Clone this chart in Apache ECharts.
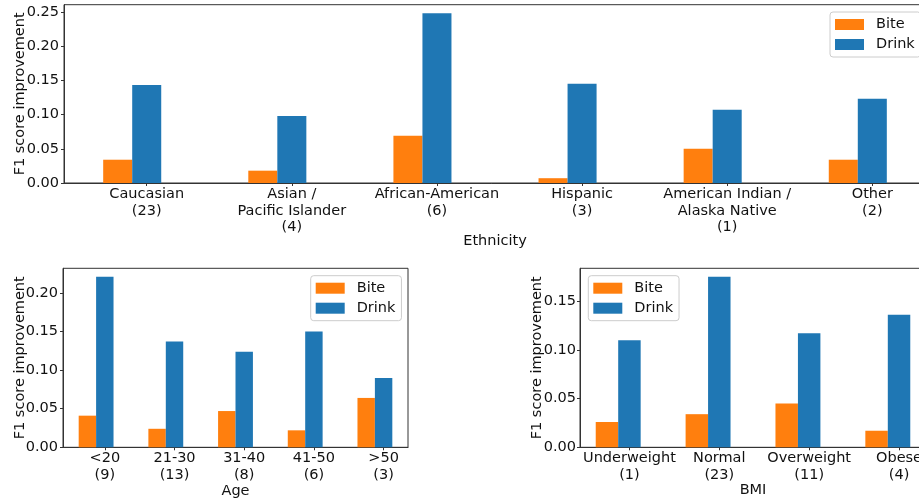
<!DOCTYPE html>
<html>
<head>
<meta charset="utf-8">
<script src="https://cdn.jsdelivr.net/npm/echarts@6/dist/echarts.min.js"></script>
<style>
  html, body { margin: 0; padding: 0; background: #fff; }
  #chart { width: 919px; height: 500px; }
</style>
</head>
<body>
<div id="chart"></div>
<script>
// F1 score improvement by demographic group
const ethnicityLabels = ['Caucasian\n(23)', 'Asian /\nPacific Islander\n(4)', 'African-American\n(6)', 'Hispanic\n(3)', 'American Indian /\nAlaska Native\n(1)', 'Other\n(2)'];
const ethnicityBite  = [0.034, 0.018, 0.069, 0.007, 0.050, 0.034];
const ethnicityDrink = [0.143, 0.098, 0.248, 0.145, 0.107, 0.123];

const ageLabels = ['<20\n(9)', '21-30\n(13)', '31-40\n(8)', '41-50\n(6)', '>50\n(3)'];
const ageBite  = [0.041, 0.024, 0.047, 0.022, 0.064];
const ageDrink = [0.221, 0.137, 0.124, 0.150, 0.090];

const bmiLabels = ['Underweight\n(1)', 'Normal\n(23)', 'Overweight\n(11)', 'Obese\n(4)'];
const bmiBite  = [0.026, 0.034, 0.045, 0.017];
const bmiDrink = [0.110, 0.175, 0.117, 0.136];

const seriesNames = ['Bite', 'Drink'];
const yTickStep = 0.05;

const ORANGE = '#ff7f0e';
const BLUE = '#1f77b4';
const FONT = 'DejaVu Sans';
const FS = 14.5;
const TEXT = '#111';
const AXIS = '#333';

const panels = [
  { labels: ethnicityLabels, bite: ethnicityBite, drink: ethnicityDrink, barW: 0.2, xName: 'Ethnicity', xNameGap: 51,
    frame: { left: 64, top: 4.7, width: 862, height: 178.3 }, yNameGap: 36, yLabelMargin: 5,
    legend: { left: 830, top: 12 } },
  { labels: ageLabels, bite: ageBite, drink: ageDrink, barW: 0.25, xName: 'Age', xNameGap: 36,
    frame: { left: 63, top: 268.3, width: 345, height: 179 }, yNameGap: 35, yLabelMargin: 5,
    legend: { left: 310.7, top: 275.7 } },
  { labels: bmiLabels, bite: bmiBite, drink: bmiDrink, barW: 0.25, xName: 'BMI', xNameGap: 35,
    frame: { left: 580, top: 268.3, width: 346, height: 179 }, yNameGap: 35, yLabelMargin: 4,
    legend: { left: 588.3, top: 275.7 } }
];

const option = {
  animation: false,
  backgroundColor: '#fff',
  textStyle: { fontFamily: FONT },
  grid: [], xAxis: [], yAxis: [], legend: [], series: []
};

panels.forEach(p => {
  const n = p.labels.length;
  // Bite spans i-w..i and Drink spans i..i+w; 5% padding on either side
  const lo = -p.barW, hi = n - 1 + p.barW;
  const pad = 0.05 * (hi - lo);
  const xMin = lo - pad, xMax = hi + pad;
  const pxPerUnit = p.frame.width / (xMax - xMin);
  const tickPos = p.labels.map((_, i) => i + p.barW / 2);
  const yMax = 1.05 * Math.max(...p.bite, ...p.drink);

  // framed panel: value axes carrying the ticks and labels
  const fi = option.grid.length;
  option.grid.push(Object.assign({
    show: true, borderColor: AXIS, borderWidth: 1, containLabel: false, outerBoundsMode: 'none'
  }, p.frame));
  option.xAxis.push({
    type: 'value', gridIndex: fi, min: xMin, max: xMax,
    name: p.xName, nameLocation: 'middle', nameGap: p.xNameGap, nameMoveOverlap: false,
    nameTextStyle: { fontFamily: FONT, fontSize: FS, color: TEXT },
    axisLine: { show: true, onZero: false, lineStyle: { color: AXIS, width: 1 } },
    axisTick: { show: true, length: 3, customValues: tickPos, lineStyle: { color: AXIS } },
    axisLabel: {
      customValues: tickPos, margin: 3, fontFamily: FONT, fontSize: FS, color: TEXT, lineHeight: 16.5,
      formatter: v => p.labels[Math.round(v - p.barW / 2)] || ''
    },
    splitLine: { show: false }
  });
  option.yAxis.push({
    type: 'value', gridIndex: fi, min: 0, max: yMax, interval: yTickStep,
    name: 'F1 score improvement', nameLocation: 'middle', nameGap: p.yNameGap, nameRotate: 90, nameMoveOverlap: false,
    nameTextStyle: { fontFamily: FONT, fontSize: FS, color: TEXT },
    axisLine: { show: true, onZero: false, lineStyle: { color: AXIS, width: 1 } },
    axisTick: { show: true, length: 3, lineStyle: { color: AXIS } },
    axisLabel: { showMaxLabel: false, margin: p.yLabelMargin, fontFamily: FONT, fontSize: FS, color: TEXT,
      formatter: v => v.toFixed(2) },
    splitLine: { show: false }
  });

  // bar layer: one category band per group, aligned with the value axis above
  const bi = option.grid.length;
  option.grid.push({
    left: p.frame.left + (-0.5 - xMin) * pxPerUnit, top: p.frame.top,
    width: n * pxPerUnit, height: p.frame.height, containLabel: false, outerBoundsMode: 'none', show: false
  });
  option.xAxis.push({ type: 'category', gridIndex: bi, data: p.labels, boundaryGap: true, show: false });
  option.yAxis.push({ type: 'value', gridIndex: bi, min: 0, max: yMax, show: false });

  option.legend.push(Object.assign({
    orient: 'vertical', data: seriesNames, icon: 'rect', itemWidth: 29, itemHeight: 11, itemGap: 5,
    padding: [5, 6, 5, 5], backgroundColor: 'rgba(255,255,255,0.8)', borderColor: '#cccccc', borderWidth: 1,
    borderRadius: 3, selectedMode: false,
    textStyle: { fontFamily: FONT, fontSize: FS, color: TEXT, padding: [0, 0, 0, 7] }
  }, p.legend));

  const makeSeries = (name, vals, color) => ({
    type: 'bar', name, xAxisIndex: bi, yAxisIndex: bi, data: vals,
    barWidth: p.barW * pxPerUnit, barGap: '0%',
    itemStyle: { color }, emphasis: { disabled: true }
  });
  option.series.push(makeSeries('Bite', p.bite, ORANGE));
  option.series.push(makeSeries('Drink', p.drink, BLUE));
});

const chart = echarts.init(document.getElementById('chart'), null, { renderer: 'canvas' });
chart.setOption(option);
</script>
</body>
</html>
